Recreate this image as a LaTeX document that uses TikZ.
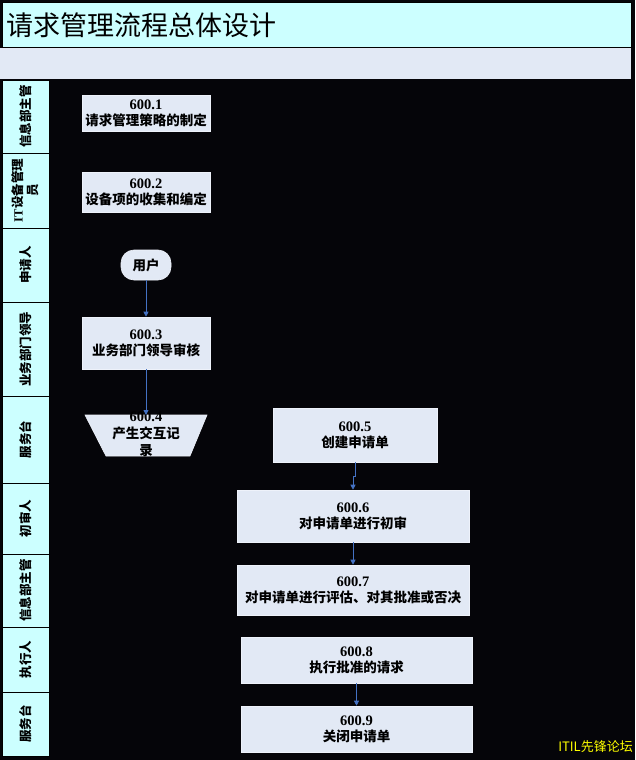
\documentclass[tikz,border=0pt]{standalone}
\usepackage{fontspec}
\setmainfont{Liberation Serif}
\newfontfamily\cjk{Noto Sans CJK SC}
\usepackage{tikz}
\usetikzlibrary{positioning, arrows.meta, calc}
\definecolor{pageblack}{HTML}{050509}
\definecolor{titlecyan}{HTML}{CCFFFF}
\definecolor{stepfill}{HTML}{E2E9F5}
\definecolor{stepedge}{HTML}{EEF2FA}
\definecolor{flowblue}{HTML}{4472C4}
\definecolor{markyellow}{HTML}{FFFF00}
\newcommand\stepno[1]{{\fontsize{14.5}{16}\selectfont #1}}

\begin{document}
\begin{tikzpicture}[x=1pt, y=-1pt,
    stepbox/.style={fill=stepfill, draw=stepedge, line width=0.6pt, inner sep=0pt, align=center,
      font=\bfseries\fontsize{13.5}{16}\selectfont},
    lanetag/.style={rotate=90, align=center, inner sep=0pt, font=\cjk\bfseries\fontsize{12.5}{15}\selectfont},
    flow/.style={draw=flowblue, line width=0.8pt, -{Triangle[length=5pt, width=5pt]}}]
  \useasboundingbox (0,0) rectangle (635,760);
  \fill[pageblack] (0,0) rectangle (635,760);

  % header bars
  \node[anchor=north west, fill=titlecyan, draw=black, line width=1pt, minimum width=629pt, minimum height=45pt,
        text width=621pt, inner xsep=4pt, font=\cjk\fontsize{27}{29}\selectfont] (title) at (2,2) {请求管理流程总体设计};
  \node[anchor=north west, fill=stepfill, minimum width=631pt, minimum height=31pt, inner sep=0pt] (subbar) at (0,48) {};

  % swimlane labels
  \foreach \ytop/\ybot/\who [count=\i] in {80/153/信息部主管, 153/228/{{\rmfamily IT}设备管理\\员}, 228/302/申请人,
      302/396/业务部门领导, 396/483/服务台, 483/554/初审人, 554/627/信息部主管, 627/692/执行人, 692/756/服务台}{
    \draw[fill=titlecyan, draw=black, line width=1pt] (2,\ytop) rectangle (49,\ybot);
    \node[lanetag] (lane\i) at (25.5,{(\ytop+\ybot)/2}) {\who};
  }

  % steps
  \node[stepbox, minimum width=128pt, minimum height=36pt] (s1) at (146,113) {\stepno{600.1}\\{\cjk 请求管理策略的制定}};
  \node[stepbox, minimum width=128pt, minimum height=40pt] (s2) at (146,192) {\stepno{600.2}\\{\cjk 设备项的收集和编定}};
  \node[stepbox, rounded corners=13pt, minimum width=50pt, minimum height=30pt] (user) at (146,265) {\cjk 用户};
  \node[stepbox, minimum width=128pt, minimum height=52pt] (s3) at (146,343) {\stepno{600.3}\\{\cjk 业务部门领导审核}};
  \filldraw[fill=stepfill, draw=stepedge, line width=0.6pt] (85,415) -- (207,415) -- (190,456) -- (106,456) -- cycle;
  \coordinate (s4top) at (146,415);
  \node[align=center, inner sep=0pt, font=\bfseries\fontsize{13.5}{17}\selectfont] (s4) at (146,434) {\stepno{600.4}\\{\cjk 产生交互记}\\{\cjk 录}};
  \node[stepbox, minimum width=164pt, minimum height=54pt] (s5) at (355,435) {\stepno{600.5}\\{\cjk 创建申请单}};
  \node[stepbox, minimum width=232pt, minimum height=52pt] (s6) at (353,516) {\stepno{600.6}\\{\cjk 对申请单进行初审}};
  \node[stepbox, minimum width=232pt, minimum height=50pt] (s7) at (353,590) {\stepno{600.7}\\{\cjk 对申请单进行评估、对其批准或否决}};
  \node[stepbox, minimum width=231pt, minimum height=46pt] (s8) at (356.5,660) {\stepno{600.8}\\{\cjk 执行批准的请求}};
  \node[stepbox, minimum width=231pt, minimum height=46pt] (s9) at (356.5,729) {\stepno{600.9}\\{\cjk 关闭申请单}};

  % connectors
  \draw[flow] (user) -- (s3);
  \draw[flow] (s3) -- (s4top);
  \draw[flow] (s5.south) -- ++(0,14) -| (s6.north);
  \draw[flow] (s6) -- (s7);
  \draw[flow] (s8) -- (s9);

  \node[anchor=south east, inner sep=0pt, text=markyellow, font=\cjk\fontsize{13}{13}\selectfont] (mark) at (633,753) {ITIL先锋论坛};
\end{tikzpicture}
\end{document}
